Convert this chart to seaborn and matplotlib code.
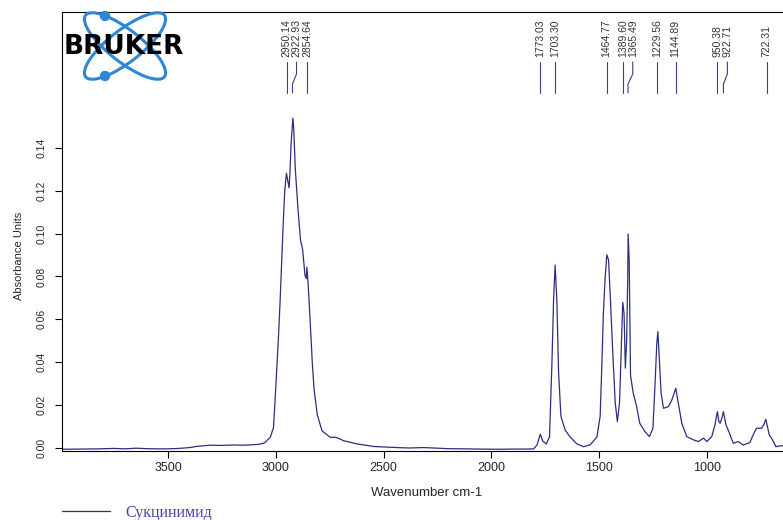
import matplotlib
matplotlib.use('Agg')
import matplotlib.pyplot as plt
from matplotlib import transforms
from matplotlib.patches import Ellipse, Circle
import pandas as pd
import seaborn as sns

# spectrum (wavenumber cm-1, absorbance units)
wavenumber = [3995, 3900, 3820, 3750, 3700, 3650, 3600, 3550, 3500, 3450,
              3400, 3370, 3330, 3300, 3250, 3200, 3150, 3110, 3080, 3060,
              3049, 3026, 3011, 3004, 2996, 2988, 2981, 2974, 2966, 2959,
              2951, 2939, 2935, 2929, 2921, 2917, 2910, 2898, 2886, 2876,
              2865, 2859, 2856, 2850, 2841, 2831, 2823, 2808, 2786, 2748,
              2724, 2700, 2686, 2623, 2546, 2438, 2380, 2314, 2250, 2206,
              2129, 2050, 1974, 1900, 1840, 1804, 1788, 1773, 1761, 1745,
              1730, 1719, 1711, 1704, 1696, 1688, 1677, 1657, 1634, 1603,
              1572, 1541, 1510, 1495, 1487, 1480, 1472, 1464, 1456, 1448,
              1436, 1425, 1415, 1405, 1396, 1390, 1384, 1378, 1372, 1367,
              1365, 1360, 1354, 1342, 1326, 1311, 1287, 1266, 1250, 1240,
              1232, 1227, 1220, 1212, 1201, 1178, 1162, 1144, 1132, 1116,
              1093, 1062, 1039, 1015, 1000, 977, 962, 951, 944, 938,
              930, 923, 911, 895, 877, 854, 831, 800, 785, 769,
              746, 735, 726, 710, 695, 679, 661, 637]
absorbance = [-0.0005, -0.0004, -0.0003, -0.0001, -0.0003, 0.0000, -0.0002, -0.0003, -0.0003, -0.0001,
              0.0003, 0.0008, 0.0012, 0.0014, 0.0013, 0.0015, 0.0014, 0.0016, 0.0018, 0.0022,
              0.0028, 0.0051, 0.0096, 0.0217, 0.0368, 0.0519, 0.0670, 0.0851, 0.1047, 0.1198,
              0.1281, 0.1213, 0.1274, 0.1425, 0.1538, 0.1485, 0.1304, 0.1123, 0.0972, 0.0926,
              0.0806, 0.0790, 0.0843, 0.0761, 0.0594, 0.0398, 0.0277, 0.0157, 0.0081, 0.0051,
              0.0051, 0.0042, 0.0035, 0.0020, 0.0008, 0.0003, 0.0001, 0.0003, 0.0000, -0.0002,
              -0.0003, -0.0004, -0.0005, -0.0004, -0.0004, -0.0003, 0.0015, 0.0065, 0.0033, 0.0020,
              0.0052, 0.0388, 0.0693, 0.0853, 0.0693, 0.0356, 0.0148, 0.0084, 0.0052, 0.0020,
              0.0007, 0.0016, 0.0052, 0.0148, 0.0388, 0.0629, 0.0790, 0.0901, 0.0877, 0.0709,
              0.0436, 0.0212, 0.0124, 0.0212, 0.0500, 0.0680, 0.0629, 0.0373, 0.0500, 0.0790,
              0.0998, 0.0870, 0.0340, 0.0260, 0.0196, 0.0116, 0.0077, 0.0054, 0.0093, 0.0303,
              0.0489, 0.0543, 0.0411, 0.0256, 0.0186, 0.0194, 0.0225, 0.0279, 0.0210, 0.0116,
              0.0054, 0.0039, 0.0031, 0.0047, 0.0031, 0.0054, 0.0109, 0.0170, 0.0125, 0.0116,
              0.0140, 0.0170, 0.0109, 0.0070, 0.0023, 0.0031, 0.0015, 0.0026, 0.0062, 0.0093,
              0.0093, 0.0110, 0.0135, 0.0062, 0.0039, 0.0007, 0.0011, 0.0011]

peaks = [2950.14, 2922.93, 2854.64, 1773.03, 1703.30, 1464.77, 1389.60,
         1365.49, 1229.56, 1144.89, 950.38, 922.71, 722.31]
x_ticks = [3500, 3000, 2500, 2000, 1500, 1000]
y_ticks = [0.00, 0.02, 0.04, 0.06, 0.08, 0.10, 0.12, 0.14]
sample_name = 'Сукцинимид'

df = pd.DataFrame({'wavenumber': wavenumber, 'absorbance': absorbance})

sns.set_style('ticks')
plt.rcParams['font.family'] = ['Liberation Sans', 'DejaVu Sans']

line_color = '#2d2d80'

fig = plt.figure(figsize=(7.83, 5.2), dpi=100)
W, H = 783, 520
ax = fig.add_axes([61.5 / W, (H - 451) / H, (785 - 61.5) / W, 439 / H])

sns.lineplot(data=df, x='wavenumber', y='absorbance', sort=False, estimator=None,
             color=line_color, lw=0.9, ax=ax, label=sample_name)
ax.get_legend().remove()

ax.set_xlim(3995, 637)
ax.set_ylim(-0.0013, 0.2032)
ax.set_xticks(x_ticks)
ax.set_xticklabels([str(t) for t in x_ticks], fontsize=9)
ax.set_yticks(y_ticks)
ax.set_yticklabels(['%.2f' % t for t in y_ticks], fontsize=7.5, rotation=90, va='center')
ax.tick_params(axis='both', direction='out', length=5, width=0.8, color='black')
ax.tick_params(axis='x', pad=3)
ax.tick_params(axis='y', pad=6)
for s in ax.spines.values():
    s.set_linewidth(0.8)
    s.set_color('black')

ax.set_xlabel('Wavenumber cm-1', fontsize=9.5)
ax.xaxis.set_label_coords(0.505, -0.083)
ax.set_ylabel('Absorbance Units', fontsize=8)
ax.yaxis.set_label_coords(-0.052, 0.444)

# peak labels, spread so they do not overlap
trans = transforms.blended_transform_factory(ax.transData, ax.transAxes)
gap = 46
label_pos = []
for p in sorted(peaks, reverse=True):
    if label_pos and label_pos[-1] - p < gap:
        label_pos.append(label_pos[-1] - gap)
    else:
        label_pos.append(p)
for p, lp in zip(sorted(peaks, reverse=True), label_pos):
    ax.plot([lp, lp, p, p], [0.886, 0.859, 0.836, 0.8155], transform=trans,
            color='#3c3c8c', lw=0.8)
    ax.text(lp, 0.8975, '%.2f' % p, transform=trans, rotation=90,
            ha='center', va='bottom', fontsize=7.5, color='#333333')

# Bruker logo
lax = fig.add_axes([60 / W, (H - 82) / H, 130 / W, 72 / H])
lax.set_xlim(60, 190)
lax.set_ylim(82, 10)
lax.axis('off')
lax.patch.set_alpha(0)
logo_blue = '#2f86d6'
lax.add_patch(Ellipse((125, 46), 100, 32, angle=38, fill=False, ec=logo_blue, lw=2.2))
lax.add_patch(Ellipse((125, 46), 100, 32, angle=-38, fill=False, ec=logo_blue, lw=2.2))
lax.add_patch(Circle((105, 16), 4.5, color=logo_blue))
lax.add_patch(Circle((105, 76), 4.5, color=logo_blue))
lax.text(124, 47, 'BRUKER', ha='center', va='center', fontsize=19,
         fontweight='bold', family='DejaVu Sans', color='black')

handles, labels = ax.get_legend_handles_labels()
fig.legend(handles, labels, loc='center left', bbox_to_anchor=(62 / W, 7 / H),
           frameon=False, borderpad=0, borderaxespad=0, handlelength=3.0,
           handletextpad=0.95, prop={'family': 'Liberation Serif', 'size': 11.5},
           labelcolor='#4646a6')

fig.savefig('out.png', dpi=100)
